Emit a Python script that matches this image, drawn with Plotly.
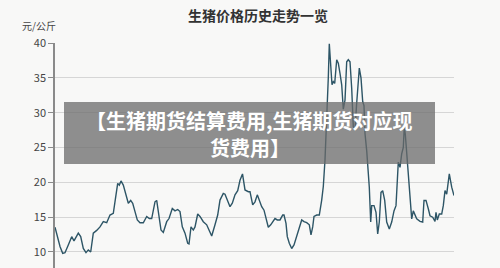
import plotly.graph_objects as go

# time position (arbitrary period units) and price (元/公斤)
period = [55, 57.3, 60, 62.7, 65, 68.3, 71.7, 74, 76.7, 78.3, 80.7, 83.3, 86, 88.3, 90.7,
          93.3, 96.7, 100, 103.3, 106.7, 110, 113.3, 115.7, 117.7, 119.3, 121, 123.3, 126,
          128.3, 130.7, 132.7, 135, 137.3, 140, 143.3, 146.7, 149.3, 151.7, 155, 156.7,
          158.3, 161, 163.3, 166.7, 169, 172.3, 175, 177.7, 180, 182.3, 185, 187.7, 189,
          191, 193.3, 195, 197.7, 200, 203.3, 206.7, 209, 211.7, 215, 217.7, 220, 223.3,
          225, 227.7, 230, 232.3, 235, 237.7, 240, 242.5, 245, 248.3, 250, 252.7, 255,
          257.3, 259.3, 261.7, 264, 266.7, 268.3, 270.7, 273.3, 275, 277.3, 280, 282.7,
          284, 286, 287.3, 289.3, 291.7, 294, 296.7, 299.3, 301.7, 304, 306.7, 309.3, 311,
          312.7, 314, 316.7, 319.3, 321.7, 323.3, 325, 326.3, 327.5, 328.3, 329.3, 330.7,
          332, 333.3, 334.7, 336.7, 338.3, 340, 341.7, 343.3, 345, 346.7, 348.3, 350,
          351.7, 353.3, 355, 356.5, 358, 359.3, 361, 362.7, 364, 365, 366.7, 368.3, 369.3,
          370.7, 371.7, 374, 376, 377.7, 379.3, 381, 382.7, 384.7, 386.7, 389.3, 391.7,
          394, 396, 397.3, 398.3, 400, 401.7, 403.3, 404.3, 405.3, 406.7, 408.3, 410,
          411.7, 413.3, 415, 416.7, 420, 422.7, 424, 426, 428.3, 430, 432.7, 435, 436,
          437.3, 439.3, 441.7, 443.3, 445, 446.7, 449.3, 451.7, 454]
price = [13.55, 12.2, 10.8, 9.8, 9.9, 11.0, 12.2, 11.6, 12.2, 12.7, 12.2, 10.5, 9.9, 10.3, 10.0,
         12.7, 13.1, 13.6, 14.35, 14.2, 15.3, 15.55, 17.9, 19.85, 19.6, 20.2, 19.6, 18.2,
         17.0, 17.4, 17.0, 15.8, 14.6, 14.2, 14.2, 15.1, 14.8, 14.8, 17.2, 17.4,
         15.55, 13.15, 12.8, 14.35, 14.8, 16.25, 15.9, 16.1, 15.8, 13.6, 12.7, 11.25, 11.15,
         13.6, 13.15, 13.6, 15.45, 15.1, 14.35, 13.9, 13.15, 12.3, 13.9, 15.3, 17.45, 18.4,
         18.3, 17.2, 16.5, 17.0, 18.2, 18.8, 20.3, 21.2, 18.9, 18.65, 18.65, 16.75, 17.2,
         18.2, 17.45, 16.5, 16.0, 14.6, 13.55, 13.9, 14.35, 14.8, 14.6, 14.6, 15.3,
         15.3, 14.1, 12.2, 11.25, 10.5, 11.0, 12.2, 13.6, 14.6, 14.35, 14.2, 13.9, 12.45,
         13.6, 15.1, 15.3, 15.3, 17.45, 19.4, 23.2, 27.0, 31.0, 35.0, 39.9, 35.9,
         34.0, 34.45, 34.2, 37.6, 37.1, 35.65, 34.0, 30.5, 31.8, 37.3, 37.6, 37.3,
         33.5, 28.0, 27.5, 31.0, 34.5, 36.4, 35.0, 31.6, 31.0, 27.0, 24.55, 21.05, 19.3,
         14.3, 16.65, 16.65, 15.7, 12.6, 14.3, 18.55, 18.8, 17.4, 14.3, 13.3, 14.3,
         15.9, 16.65, 20.2, 22.9, 22.15, 24.1, 25.0, 28.0, 26.9, 24.1, 22.15, 17.85,
         14.75, 15.9, 15.2, 14.75, 14.4, 14.3, 17.4, 17.4, 16.2, 15.2, 15.0, 14.4, 15.7,
         14.6, 15.45, 15.45, 16.65, 18.8, 18.3, 21.2, 19.3, 18.1]

y_ticks = [10, 15, 20, 25, 30, 35, 40]
title_text = "生猪价格历史走势一览"
unit_text = "元/公斤"
banner_line1 = "【生猪期货结算费用,生猪期货对应现"
banner_line2 = "货费用】"

FONT = "Noto Sans CJK SC, Noto Sans, sans-serif"

fig = go.Figure()
fig.add_trace(go.Scatter(
    x=period, y=price, mode="lines",
    line=dict(color="#2d5566", width=1.4),
    hoverinfo="skip", showlegend=False,
))

fig.update_layout(
    width=500, height=268,
    margin=dict(l=55, r=46, t=43, b=0),
    paper_bgcolor="#f8f8f7", plot_bgcolor="#f8f8f7",
    font=dict(family=FONT, color="#444"),
    title=dict(text="<b>" + title_text + "</b>", x=0.516, y=1 - 16 / 268,
               xanchor="center", yanchor="middle",
               font=dict(size=14, color="#333", family=FONT)),
    xaxis=dict(range=[55, 454], visible=False),
    yaxis=dict(range=[7.7, 40], tickvals=y_ticks, showline=True,
               linecolor="#8a8a8a", linewidth=1.5, ticks="outside", ticklen=5,
               tickcolor="#8a8a8a", tickwidth=1.2, showgrid=True,
               gridcolor="#d6d6d6", gridwidth=1.3, zeroline=False,
               tickfont=dict(size=11, color="#444")),
    shapes=[dict(type="rect", xref="paper", yref="paper",
                 x0=(64 - 55) / 399, x1=(435 - 55) / 399,
                 y0=(268 - 164) / 225, y1=(268 - 102) / 225,
                 fillcolor="rgba(105,105,105,0.74)", line=dict(width=0),
                 layer="above")],
    annotations=[
        dict(text=unit_text, xref="paper", yref="paper",
             x=(39 - 55) / 399, y=(268 - 26) / 225, xanchor="center", yanchor="middle",
             showarrow=False, font=dict(size=10, color="#444")),
        dict(text="<b>" + banner_line1 + "</b>", xref="paper", yref="paper",
             x=(249.5 - 55) / 399, y=(268 - 120) / 225, xanchor="center", yanchor="middle",
             showarrow=False, font=dict(size=20, color="#ffffff", family=FONT)),
        dict(text="<b>" + banner_line2 + "</b>", xref="paper", yref="paper",
             x=(249.5 - 55) / 399, y=(268 - 147) / 225, xanchor="center", yanchor="middle",
             showarrow=False, font=dict(size=20, color="#ffffff", family=FONT)),
    ],
)

fig.write_html("out.html")
